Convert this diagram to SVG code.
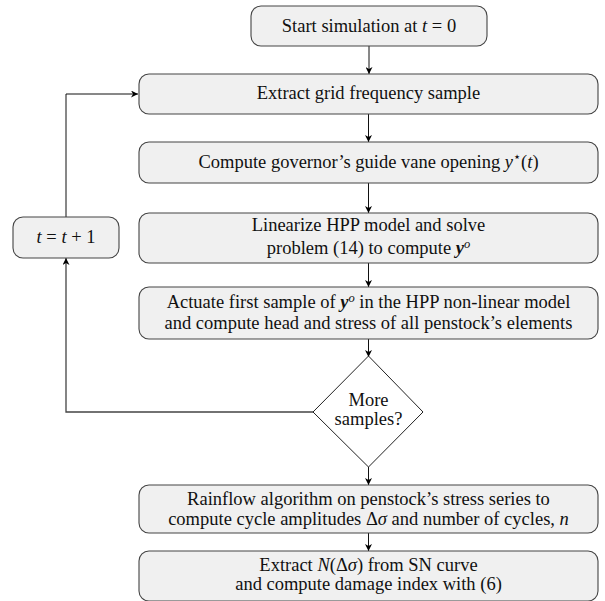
<svg xmlns="http://www.w3.org/2000/svg" width="605" height="601" viewBox="0 0 605 601">
<defs>
<marker id="ah" viewBox="0 0 10 10" refX="10" refY="5" markerWidth="7" markerHeight="7" orient="auto" markerUnits="userSpaceOnUse">
<path d="M0,0 L10,5 L0,10 L3,5 Z" fill="#000"/>
</marker>
<style>
.box{fill:#f0f0f0;stroke:#444;stroke-width:1.1}
.dia{fill:#fff;stroke:#222;stroke-width:1}
.t{font-family:'Liberation Serif','DejaVu Serif',serif;font-size:18.5px;fill:#111;text-anchor:middle}
.m{font-style:italic}
.b{font-weight:bold;font-style:italic}
.sup{font-size:12.5px}
.edge{fill:none;stroke:#111;stroke-width:1}
.loop{fill:none;stroke:#444;stroke-width:1.3}
</style>
</defs>
<g id="edges">
<line class="edge" x1="369" y1="46" x2="369" y2="74" marker-end="url(#ah)"/>
<line class="edge" x1="368.5" y1="114" x2="368.5" y2="142" marker-end="url(#ah)"/>
<line class="edge" x1="368.5" y1="183" x2="368.5" y2="213" marker-end="url(#ah)"/>
<line class="edge" x1="368.5" y1="263" x2="368.5" y2="287" marker-end="url(#ah)"/>
<line class="edge" x1="368.5" y1="339" x2="368.5" y2="357" marker-end="url(#ah)"/>
<line class="edge" x1="368.5" y1="467" x2="368.5" y2="485" marker-end="url(#ah)"/>
<line class="edge" x1="368.5" y1="533" x2="368.5" y2="551" marker-end="url(#ah)"/>
<polyline class="loop" points="313,412 66,412 66,258" marker-end="url(#ah)"/>
<polyline class="edge" points="66,217 66,94 138,94" marker-end="url(#ah)"/>
</g>
<g font-family="Liberation Serif, DejaVu Serif, serif">
<g id="start">
<rect class="box" x="251" y="6" width="236" height="40" rx="10"/>
<text class="t" x="369" y="32">Start simulation at <tspan class="m">t</tspan> = 0</text>
</g>
<g id="extract">
<rect class="box" x="139" y="74" width="459" height="40" rx="10"/>
<text class="t" x="368.5" y="99">Extract grid frequency sample</text>
</g>
<g id="governor">
<rect class="box" x="139" y="142" width="459" height="41" rx="10"/>
<text class="t" x="368.5" y="168">Compute governor’s guide vane opening <tspan class="m">y</tspan><tspan class="sup" dy="-7">⋆</tspan><tspan dy="7">(</tspan><tspan class="m">t</tspan>)</text>
</g>
<g id="linearize">
<rect class="box" x="139" y="213" width="459" height="50" rx="10"/>
<text class="t" x="368.5" y="231">Linearize HPP model and solve</text>
<text class="t" x="368.5" y="254">problem (14) to compute <tspan class="b">y</tspan><tspan class="sup m" dy="-6">o</tspan></text>
</g>
<g id="actuate">
<rect class="box" x="139" y="287" width="459" height="52" rx="10"/>
<text class="t" x="368.5" y="308">Actuate first sample of <tspan class="b">y</tspan><tspan class="sup m" dy="-6">o</tspan><tspan dy="6"> in the HPP non-linear model</tspan></text>
<text class="t" x="368.5" y="329">and compute head and stress of all penstock’s elements</text>
</g>
<g id="tinc">
<rect class="box" x="13" y="217" width="106" height="41" rx="10"/>
<text class="t" x="66" y="243"><tspan class="m">t</tspan> = <tspan class="m">t</tspan> + 1</text>
</g>
<g id="more">
<polygon class="dia" points="368.5,356 423,412 368.5,467 313,412"/>
<text class="t" x="368.5" y="406">More</text>
<text class="t" x="368.5" y="425">samples?</text>
</g>
<g id="rainflow">
<rect class="box" x="139" y="485" width="459" height="48" rx="10"/>
<text class="t" x="368.5" y="505">Rainflow algorithm on penstock’s stress series to</text>
<text class="t" x="368.5" y="525">compute cycle amplitudes Δ<tspan class="m">σ</tspan> and number of cycles, <tspan class="m">n</tspan></text>
</g>
<g id="damage">
<rect class="box" x="139" y="551" width="459" height="50" rx="10"/>
<text class="t" x="368.5" y="571">Extract <tspan class="m">N</tspan>(Δ<tspan class="m">σ</tspan>) from SN curve</text>
<text class="t" x="368.5" y="590">and compute damage index with (6)</text>
</g>
</g>
</svg>
